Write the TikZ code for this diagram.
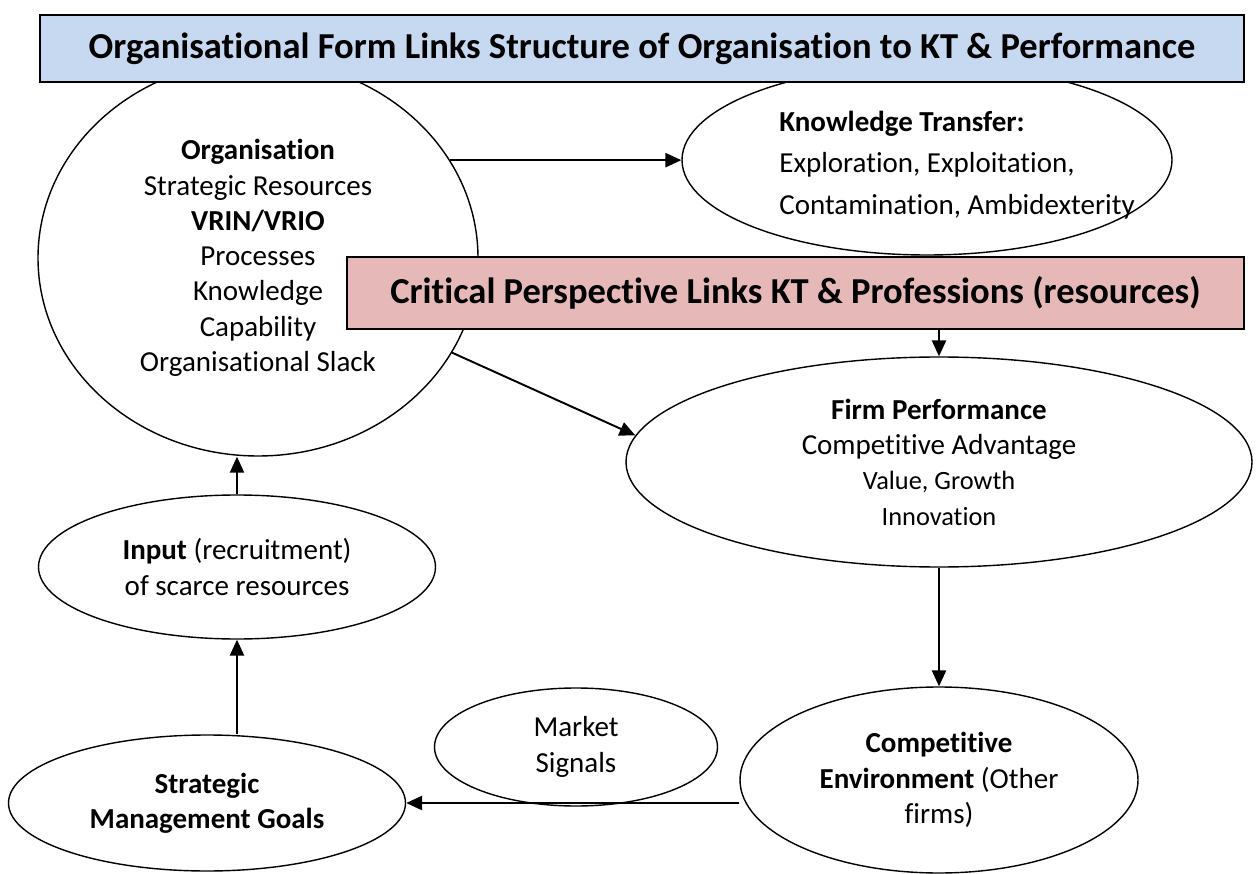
\documentclass[tikz,border=0pt]{standalone}
\usepackage{fontspec}
\setmainfont{Carlito}[Ligatures=NoCommon]
\usepackage{tikz}
\usetikzlibrary{positioning, arrows.meta, shapes.geometric}

\definecolor{titleblue}{HTML}{C6D9F1}
\definecolor{critred}{HTML}{E6B9B8}
\newcommand{\bodyfont}{\fontsize{16.5}{20.1}\selectfont}
\newcommand{\smallfont}{\fontsize{15}{18}\selectfont}
\newcommand{\headfont}{\fontsize{20.8}{25}\selectfont\bfseries}

\begin{document}
\begin{tikzpicture}[x=0.02cm, y=-0.02cm,
    oval/.style 2 args={ellipse, draw, line width=0.8pt, inner sep=0pt,
      minimum width=#1*0.02cm, minimum height=#2*0.02cm, font=\bodyfont, align=center},
    headbox/.style={draw, line width=1pt, inner sep=0pt, font=\headfont},
    arr/.style={-{Triangle[length=9pt, width=8pt]}, line width=1.1pt}]

  \useasboundingbox (0,0) rectangle (1257,874);

  % 組織
  \node[oval={440}{396}] (org) at (258,258) {\textbf{Organisation}\\Strategic Resources\\\textbf{VRIN/VRIO}\\Processes\\Knowledge\\Capability\\Organisational Slack};

  % 知識轉移
  \node[oval={490}{190}] (kt) at (927,160) {};
  \node[font=\bodyfont, align=left, anchor=west, inner sep=0pt] (kttext) at (779,165) {\textbf{Knowledge Transfer:}\\[3.4pt]Exploration, Exploitation,\\[3.4pt]Contamination, Ambidexterity};

  % 績效
  \node[oval={626}{210}] (firm) at (939,462) {\textbf{Firm Performance}\\Competitive Advantage\\\smallfont Value, Growth\\\smallfont Innovation};

  % 競爭環境
  \node[oval={398}{186}] (cenv) at (939,780) {\textbf{Competitive}\\\textbf{Environment} (Other\\firms)};

  % 輸入
  \node[oval={397}{144}] (inp) at (237,567) {\textbf{Input} (recruitment)\\of scarce resources};

  % 策略目標
  \node[oval={397}{136}] (smg) at (207,803) {\textbf{Strategic}\\\textbf{Management Goals}};

  % 市場訊號
  \node[oval={283}{118}] (mkt) at (576,747) {Market\\Signals};

  % 標題框
  \node[headbox, fill=titleblue, minimum width=1204*0.02cm, minimum height=67*0.02cm] (title) at (642,48.5) {Organisational Form Links Structure of Organisation to KT \& Performance};
  \node[headbox, fill=critred, minimum width=897*0.02cm, minimum height=72*0.02cm] (crit) at (795.5,293) {Critical Perspective Links KT \& Professions (resources)};

  % 箭頭
  \draw[arr] (org.27) -- (org.27 -| kt.west);
  \draw[arr] (org.-26) -- (firm.175);
  \draw[arr] (crit.south -| firm.north) -- (firm.north);
  \draw[arr] (firm.south) -- (cenv.north);
  \draw[arr] (smg.east -| cenv.west) -- (smg.east);
  \draw[arr] (inp.south |- smg.north) -- (inp.south);
  \draw[arr] (inp.north) -- (inp.north |- org.south);
\end{tikzpicture}
\end{document}
